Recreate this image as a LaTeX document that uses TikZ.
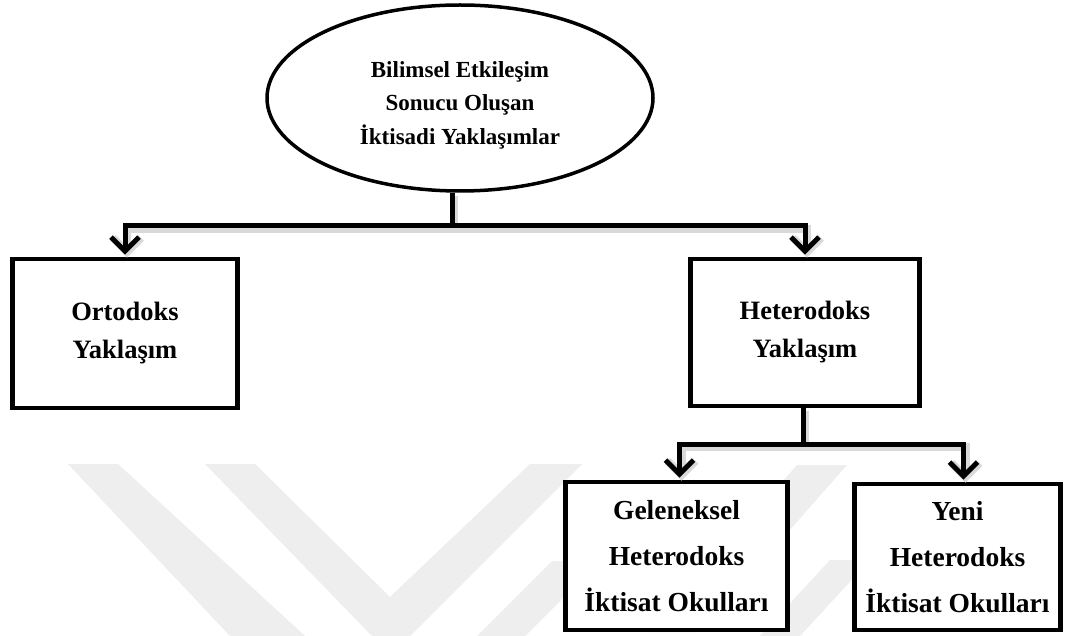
\documentclass[tikz,border=0pt]{standalone}
\usepackage{fontspec}
\setmainfont{Liberation Serif}[BoldFont={Liberation Serif Bold}]
\usetikzlibrary{arrows.meta,shapes.geometric}
\definecolor{wm}{RGB}{238,238,238}
\tikzset{barbtip/.tip={Straight Barb[length=14pt,width=28pt]}}
\newcommand\linksdraw[1]{%
  \draw[#1] (j1 |- top.south) -- (j1);
  \draw[#1,-barbtip] (j1) -| (ort.north);
  \draw[#1,-barbtip] (j1) -| (het.north);
  \draw[#1] (j2 |- het.south) -- (j2);
  \draw[#1,-barbtip] (j2) -| ([xshift=3pt]gel.north);
  \draw[#1,-barbtip] (j2) -| ([xshift=6pt]yeni.north);
}
\begin{document}
\begin{tikzpicture}[x=1pt,y=-1pt,
  boxnode/.style={draw, line width=4.8pt, fill=white, inner sep=0pt, align=center,
    font=\fontsize{26.5}{38}\selectfont\bfseries},
  lowbox/.style={boxnode, font=\fontsize{27.5}{46}\selectfont\bfseries},
  conn/.style={line width=5pt, black, shorten >=2pt},
  shadowline/.style={line width=8pt, black!15, shorten >=2pt,
    transform canvas={shift={(2pt,-3pt)}}},
]
\useasboundingbox (0,0) rectangle (1067,636);
\fill[white] (0,0) rectangle (1067,636);

% watermark
\begin{scope}
\clip (0,0) rectangle (1067,636);
\fill[wm] (68,464) -- (118,464) -- (305,636) -- (230,636) -- cycle;
\fill[wm] (205,464) -- (255,464) -- (390,597) -- (530,464) -- (582,464)
  -- (410,636) -- (372,636) -- cycle;
\fill[wm] (477,636) -- (525,636) -- (600,561) -- (552,561) -- cycle;
\fill[wm] (797,465) -- (847,465) -- (700,632) -- (650,632) -- cycle;
\fill[wm] (760,636) -- (800,636) -- (870,560) -- (830,560) -- cycle;
\end{scope}

% nodes
\node[ellipse, draw, line width=3.5pt, fill=white, inner sep=0pt,
  minimum width=386pt, minimum height=186pt] (top) at (460,98) {};
\node[align=center, inner sep=0pt,
  font=\fontsize{23}{33.5}\selectfont\bfseries] (toptext) at (460,105)
  {Bilimsel Etkileşim\\Sonucu Oluşan\\İktisadi Yaklaşımlar};

\node[boxnode, minimum width=225pt, minimum height=149pt] (ort) at (125,333.5)
  {Ortodoks\\Yaklaşım};
\node[boxnode, minimum width=229pt, minimum height=147pt] (het) at (805,332.5)
  {Heterodoks\\Yaklaşım};
\node[lowbox, minimum width=222pt, minimum height=148pt] (gel) at (676.5,556)
  {Geleneksel\\Heterodoks\\İktisat Okulları};
\node[lowbox, minimum width=206pt, minimum height=146pt] (yeni) at (957.5,557)
  {Yeni\\Heterodoks\\İktisat Okulları};

\coordinate (j1) at (452,226);
\coordinate (j2) at (803,444);

\linksdraw{shadowline}
\linksdraw{conn}
\end{tikzpicture}
\end{document}
